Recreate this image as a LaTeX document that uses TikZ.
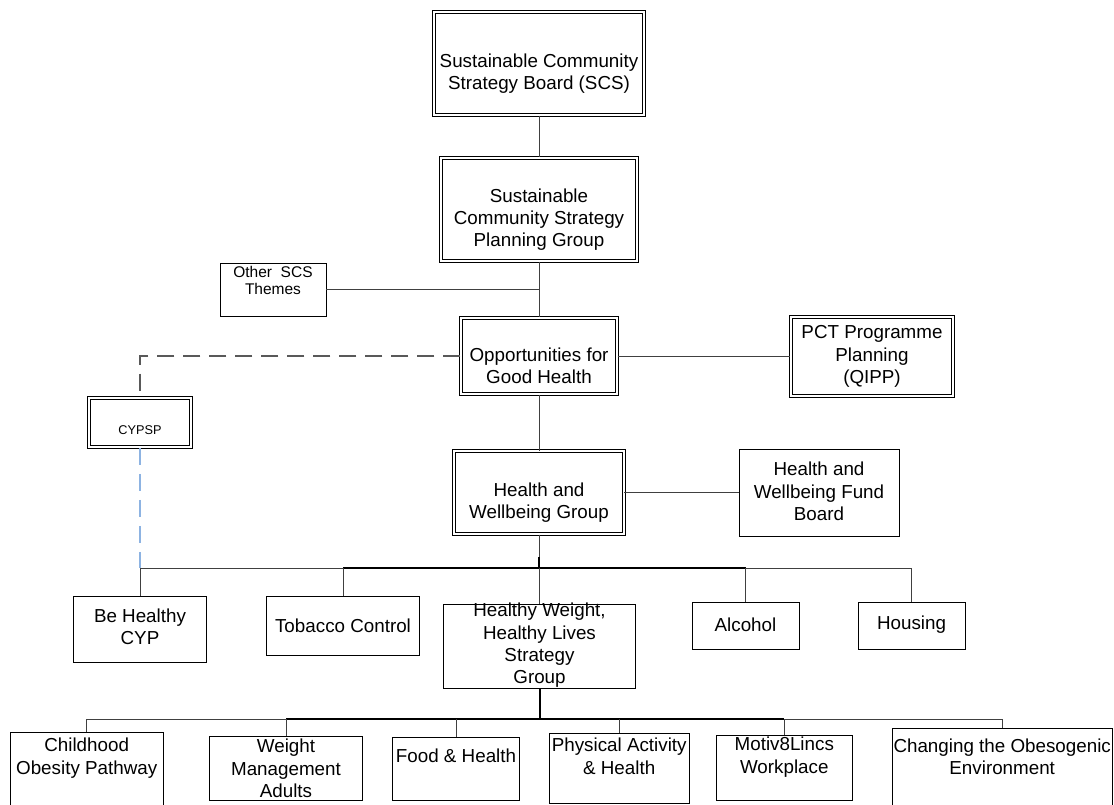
\documentclass[tikz,border=0pt]{standalone}
\usepackage{fontspec}
\setmainfont{Liberation Sans}
\definecolor{cypblue}{HTML}{8DB3E2}
\tikzset{
  box/.style={draw=black, line width=0.9pt, rectangle, inner sep=0pt},
  dbox/.style={box, line width=1.1pt, double, double distance=1.9pt},
  txt/.style={align=center, inner sep=0pt, font=\fontsize{18.8}{22.3}\selectfont},
  smalltxt/.style={align=center, inner sep=0pt, font=\fontsize{15.5}{17.5}\selectfont},
  tinytxt/.style={align=center, inner sep=0pt, font=\fontsize{12.7}{15}\selectfont},
  conn/.style={draw=black!75, line width=1pt},
  bold/.style={draw=black, line width=2pt},
  dashlink/.style={line width=1.3pt, dash pattern=on 17pt off 9pt},
}
\begin{document}
\begin{tikzpicture}[x=1pt, y=-1pt]
\useasboundingbox (0,0) rectangle (1114,805);
% top of the chart
\node[dbox, minimum width=209.5, minimum height=103.5, label={[txt, yshift=-10pt]center:{Sustainable Community\\Strategy Board (SCS)}}] (scs) at (539,63.5){};
\node[dbox, minimum width=196.5, minimum height=103.5, label={[txt, yshift=-10pt]center:{Sustainable\\Community Strategy\\Planning Group}}] (spg) at (539,209.5){};
\node[box, minimum width=106, minimum height=53, label={[smalltxt, yshift=9pt]center:{Other\ \ SCS\\Themes}}] (oth) at (273,289.5){};
\node[dbox, minimum width=156, minimum height=76.5, label={[txt, yshift=-10pt]center:{Opportunities for\\Good Health}}] (ogh) at (539,356){};
\node[dbox, minimum width=162.5, minimum height=79.5, label={[txt]center:{PCT Programme\\Planning\\(QIPP)}}] (pct) at (872,356.5){};
\node[dbox, minimum width=102.5, minimum height=49.5, label={[tinytxt, yshift=-7.5pt]center:{CYPSP}}] (cyp) at (140,422.5){};
\draw[conn](scs.south) -- (spg.north);
\draw[conn](spg.south) -- (ogh.north);
\draw[conn](oth.east) -- (oth.east -| spg.south);
\draw[conn](ogh.east) -- (ogh.east -| pct.west);
\draw[conn, draw=black!65, dashlink](ogh.west) -- (ogh.west -| cyp.north) -- (cyp.north);
% health and wellbeing
\node[dbox, minimum width=169.7, minimum height=82.9, label={[txt, yshift=-10pt]center:{Health and\\Wellbeing Group}}] (hwg) at (539,492.5){};
\node[box, minimum width=160, minimum height=87, label={[txt, yshift=1pt]center:{Health and\\Wellbeing Fund\\Board}}] (hwf) at (819,492.5){};
\draw[conn](ogh.south) -- (hwg.north);
\draw[conn](hwg.east) -- (hwg.east -| hwf.west);
% middle row
\node[box, minimum width=133, minimum height=66, label={[txt, yshift=2pt]center:{Be Healthy\\CYP}}] (bhc) at (140,629){};
\node[box, minimum width=153, minimum height=59, label={[txt]center:{Tobacco Control}}] (tob) at (343,625.5){};
\node[box, minimum width=192.4, minimum height=84.4, label={[txt, yshift=1pt]center:{Healthy Weight,\\Healthy Lives\\Strategy\\Group}}] (hwh) at (539.5,646.5){};
\node[box, minimum width=107, minimum height=47, label={[txt, yshift=1pt]center:{Alcohol}}] (alc) at (745.5,625.5){};
\node[box, minimum width=107, minimum height=47, label={[txt, yshift=1pt]center:{Housing}}] (hou) at (911.5,625.5){};
\coordinate (busm) at (539,568);
\draw[conn](hwg.south) -- (busm);
\draw[bold]([yshift=11pt]busm) -- (busm);
\draw[conn](busm -| cyp.south) -- (busm -| tob.north);
\draw[bold](busm -| tob.north) -- (busm -| alc.north);
\draw[conn](busm -| alc.north) -- (busm -| hou.north);
\draw[conn, draw=cypblue, dashlink](cyp.south) -- (busm -| cyp.south);
\draw[conn](busm -| bhc.north) -- (bhc.north);
\draw[conn](busm -| tob.north) -- (tob.north);
\draw[conn](busm -| hwh.north) -- (hwh.north);
\draw[conn](busm -| alc.north) -- (alc.north);
\draw[conn](busm -| hou.north) -- (hou.north);
% bottom row
\node[box, minimum width=153.3, minimum height=74.7, label={[txt, yshift=11.5pt]center:{Childhood\\Obesity Pathway}}] (cop) at (86.7,769.7){};
\node[box, minimum width=153.4, minimum height=63.3, label={[txt]center:{Weight\\Management\\Adults}}] (wma) at (286,768.3){};
\node[box, minimum width=126.6, minimum height=63, label={[txt, yshift=12.5pt]center:{Food \& Health}}] (fah) at (456,768.5){};
\node[box, minimum width=139.7, minimum height=70, label={[txt, yshift=12pt]center:{Physical Activity\\\& Health}}] (pah) at (619.2,768.3){};
\node[box, minimum width=135.3, minimum height=65, label={[txt, yshift=10.5pt]center:{Motiv8Lincs\\Workplace}}] (mlw) at (784.3,767.5){};
\node[box, minimum width=219.7, minimum height=78.7, label={[txt, yshift=11pt]center:{Changing the Obesogenic\\Environment}}] (cob) at (1002.2,767.6){};
\coordinate (busb) at (539.5,719);
\draw[bold](hwh.south) -- (busb);
\draw[conn](busb -| cop.north) -- (busb -| wma.north);
\draw[bold](busb -| wma.north) -- (busb -| mlw.north);
\draw[conn](busb -| mlw.north) -- (busb -| cob.north);
\draw[conn](busb -| cop.north) -- (cop.north);
\draw[conn](busb -| wma.north) -- (wma.north);
\draw[conn](busb -| fah.north) -- (fah.north);
\draw[conn](busb -| pah.north) -- (pah.north);
\draw[conn](busb -| mlw.north) -- (mlw.north);
\draw[conn](busb -| cob.north) -- (cob.north);
\end{tikzpicture}
\end{document}
